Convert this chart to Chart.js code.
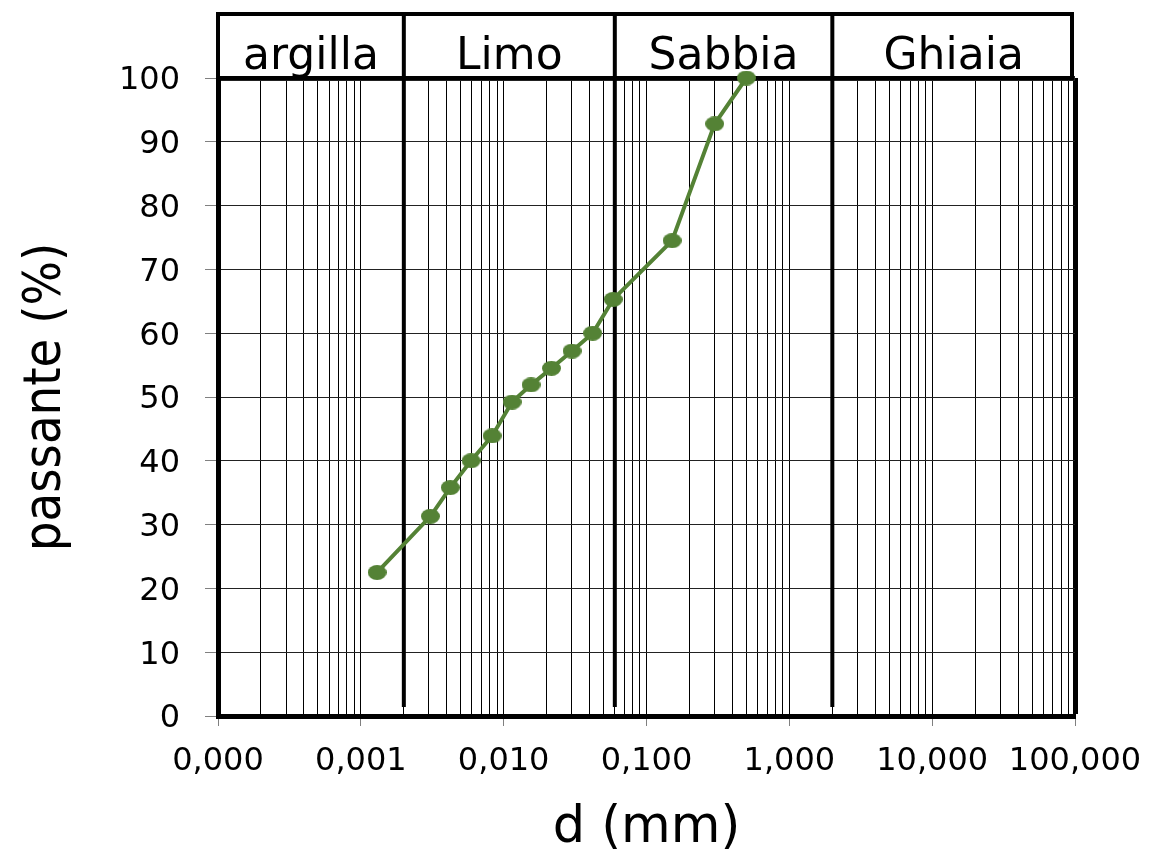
<!DOCTYPE html>
<html lang="it">
<head>
<meta charset="utf-8">
<title>Curva granulometrica</title>
<script src="https://cdn.jsdelivr.net/npm/chart.js"></script>
<style>
  html, body { margin: 0; padding: 0; background: #fff; }
  #wrap { width: 1152px; height: 855px; }
</style>
</head>
<body>
<div id="wrap"><canvas id="grading" width="1152" height="855"></canvas></div>
<script>
// Diametro dei grani (mm) e percentuale passante
const diameters = [0.0013, 0.00307, 0.00423, 0.00591, 0.0083, 0.01145, 0.01555, 0.0216, 0.0301, 0.042, 0.0584, 0.151, 0.3, 0.5];
const passing   = [22.5, 31.3, 35.8, 40.0, 43.9, 49.2, 51.9, 54.5, 57.2, 60.0, 65.3, 74.5, 92.8, 100];

// Asse x logaritmico: decadi con etichetta
const decadeValues = [0.0001, 0.001, 0.01, 0.1, 1, 10, 100];
const decadeLabels = ['0,000', '0,001', '0,010', '0,100', '1,000', '10,000', '100,000'];
const minorSteps   = [2, 3, 4, 5, 6, 7, 8, 9];

// Classi granulometriche e limiti fra le classi (mm)
const classNames  = ['argilla', 'Limo', 'Sabbia', 'Ghiaia'];
const classBounds = [0.002, 0.06, 2];

const GREEN = '#548235';
const FONT = 'DejaVu Sans';

// Marker ellittico come negli grafici di Excel
function ellipseMarker(w, h, color) {
    const c = document.createElement('canvas');
    c.width = w; c.height = h;
    const g = c.getContext('2d');
    g.fillStyle = color;
    g.beginPath();
    g.ellipse(w / 2, h / 2, w / 2, h / 2, 0, 0, Math.PI * 2);
    g.fill();
    return c;
}

// Tutte le linee verticali della griglia (1..9 per ogni decade)
function logGridValues() {
    const vals = [];
    for (let i = 0; i < decadeValues.length - 1; i++) {
        vals.push(decadeValues[i]);
        minorSteps.forEach(k => vals.push(k * decadeValues[i]));
    }
    vals.push(decadeValues[decadeValues.length - 1]);
    return vals;
}

const isDecade = v => decadeValues.indexOf(v) !== -1;

// Intestazione con le classi e linee di separazione spesse
const classBands = {
    id: 'classBands',
    beforeDatasetsDraw(chart) {
        const { ctx, chartArea, scales: { x } } = chart;
        const headTop = 14;
        const edges = [chartArea.left, ...classBounds.map(v => x.getPixelForValue(v)), chartArea.right];

        ctx.save();
        ctx.strokeStyle = '#000';
        ctx.lineWidth = 4;
        ctx.strokeRect(chartArea.left, headTop, chartArea.right - chartArea.left - 3, chartArea.top - headTop);

        classBounds.forEach(v => {
            const px = x.getPixelForValue(v);
            ctx.beginPath();
            ctx.moveTo(px, headTop);
            ctx.lineTo(px, chartArea.bottom - 9);
            ctx.stroke();
        });

        ctx.fillStyle = '#000';
        ctx.font = '44px "' + FONT + '"';
        ctx.textAlign = 'center';
        ctx.textBaseline = 'alphabetic';
        classNames.forEach((name, i) => {
            ctx.fillText(name, (edges[i] + edges[i + 1]) / 2, chartArea.top - 9);
        });
        ctx.restore();
    }
};

new Chart(document.getElementById('grading'), {
    type: 'line',
    data: {
        datasets: [{
            data: diameters.map((d, i) => ({ x: d, y: passing[i] })),
            borderColor: GREEN,
            backgroundColor: GREEN,
            borderWidth: 4,
            tension: 0,
            pointStyle: ellipseMarker(19, 15, GREEN),
            clip: false
        }]
    },
    options: {
        responsive: false,
        animation: false,
        devicePixelRatio: 1,
        layout: { padding: { top: 78, right: 77, left: 0, bottom: 0 } },
        plugins: {
            legend: { display: false },
            tooltip: { enabled: false }
        },
        scales: {
            x: {
                type: 'logarithmic',
                min: 0.0001,
                max: 100,
                afterBuildTicks: scale => {
                    scale.ticks = logGridValues().map(v => ({ value: v }));
                },
                afterFit: scale => { scale.height = 139; },
                ticks: {
                    autoSkip: false,
                    maxRotation: 0,
                    // tick padding also widens the side padding, so the
                    // label drop comes from the line height instead
                    padding: 0,
                    color: '#000',
                    font: { family: FONT, size: 32, lineHeight: 2.2 },
                    callback: value => {
                        const i = decadeValues.indexOf(value);
                        return i === -1 ? '' : decadeLabels[i];
                    }
                },
                grid: {
                    color: '#000',
                    lineWidth: c => (c.tick && c.tick.value === 100 ? 5 : 1),
                    tickLength: 10,
                    tickWidth: 1,
                    tickColor: c => (c.tick && isDecade(c.tick.value) ? '#808080' : 'rgba(0,0,0,0)')
                },
                border: { color: '#000', width: 5 },
                title: {
                    display: true,
                    text: 'd (mm)',
                    color: '#000',
                    font: { family: FONT, size: 51, lineHeight: 1 },
                    padding: { top: 0, bottom: 1 }
                }
            },
            y: {
                min: 0,
                max: 100,
                afterFit: scale => { scale.width = 218; },
                ticks: {
                    stepSize: 10,
                    padding: 25,
                    labelOffset: 3,
                    color: '#000',
                    font: { family: FONT, size: 32 }
                },
                grid: {
                    color: '#222',
                    lineWidth: c => (c.tick && c.tick.value === 100 ? 5 : 1),
                    tickLength: 13,
                    tickWidth: 1,
                    tickColor: '#808080'
                },
                border: { color: '#000', width: 5 },
                title: {
                    display: true,
                    text: 'passante (%)',
                    color: '#000',
                    font: { family: 'DejaVu Sans Condensed', size: 52, lineHeight: 1 },
                    padding: { top: 20, bottom: 0 }
                }
            }
        }
    },
    plugins: [classBands]
});
</script>
</body>
</html>
